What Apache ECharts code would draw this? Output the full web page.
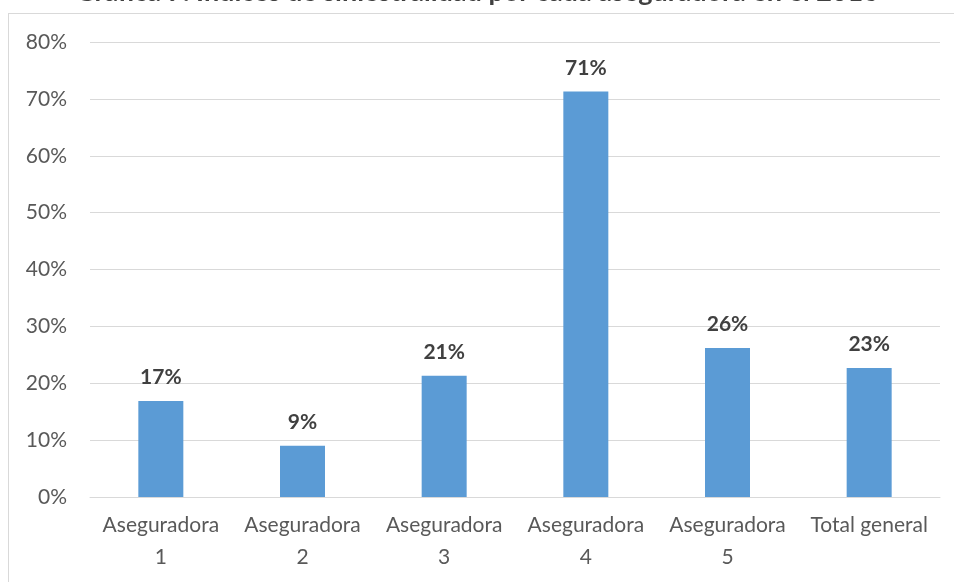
<!DOCTYPE html>
<html>
<head>
<meta charset="utf-8">
<script src="https://cdn.jsdelivr.net/npm/echarts@6/dist/echarts.min.js"></script>
<style>
  html, body { margin: 0; padding: 0; background: #fff; }
  #frame { position: absolute; left: 8px; top: 13px; width: 960px; height: 600px; border: 1px solid #d9d9d9; }
  #chart { position: absolute; left: 0; top: 0; width: 954px; height: 582px; }
</style>
</head>
<body>
<div id="frame"></div>
<div id="chart"></div>
<script>
// categorias y valores (%)
var categorias = ['Aseguradora 1', 'Aseguradora 2', 'Aseguradora 3', 'Aseguradora 4', 'Aseguradora 5', 'Total general'];
var siniestralidad = [16.9, 9.0, 21.3, 71.3, 26.2, 22.7];
var etiquetas = ['17%', '9%', '21%', '71%', '26%', '23%'];
var titulo = 'Gráfica 7. Índices de siniestralidad por cada aseguradora en el 2016';

var chart = echarts.init(document.getElementById('chart'));
chart.setOption({
  animation: false,
  textStyle: { fontFamily: 'Lato' },
  title: {
    text: titulo,
    left: 'center',
    top: -26,
    textStyle: { fontFamily: 'Lato', fontSize: 27, fontWeight: 'bold', color: '#404040' }
  },
  grid: { left: 90, right: 14, top: 42, bottom: 85 },
  xAxis: {
    type: 'category',
    data: categorias,
    axisLine: { lineStyle: { color: '#d9d9d9', width: 1 } },
    axisTick: { show: false },
    axisLabel: {
      color: '#595959',
      fontSize: 21,
      lineHeight: 32,
      margin: 12,
      interval: 0,
      formatter: function (v) {
        return v.indexOf('Aseguradora') === 0 ? v.replace(' ', '\n') : v;
      }
    }
  },
  yAxis: {
    type: 'value',
    min: 0,
    max: 80,
    interval: 10,
    axisLine: { show: false },
    axisTick: { show: false },
    splitLine: { lineStyle: { color: '#d9d9d9', width: 1 } },
    axisLabel: { color: '#595959', fontSize: 21, margin: 23, formatter: '{value}%' }
  },
  series: [{
    type: 'bar',
    data: siniestralidad,
    barWidth: 45,
    itemStyle: { color: '#5b9bd5' },
    label: {
      show: true,
      position: 'top',
      distance: 13,
      color: '#404040',
      fontSize: 21,
      fontWeight: 'bold',
      formatter: function (p) { return etiquetas[p.dataIndex]; }
    }
  }]
});
</script>
</body>
</html>
